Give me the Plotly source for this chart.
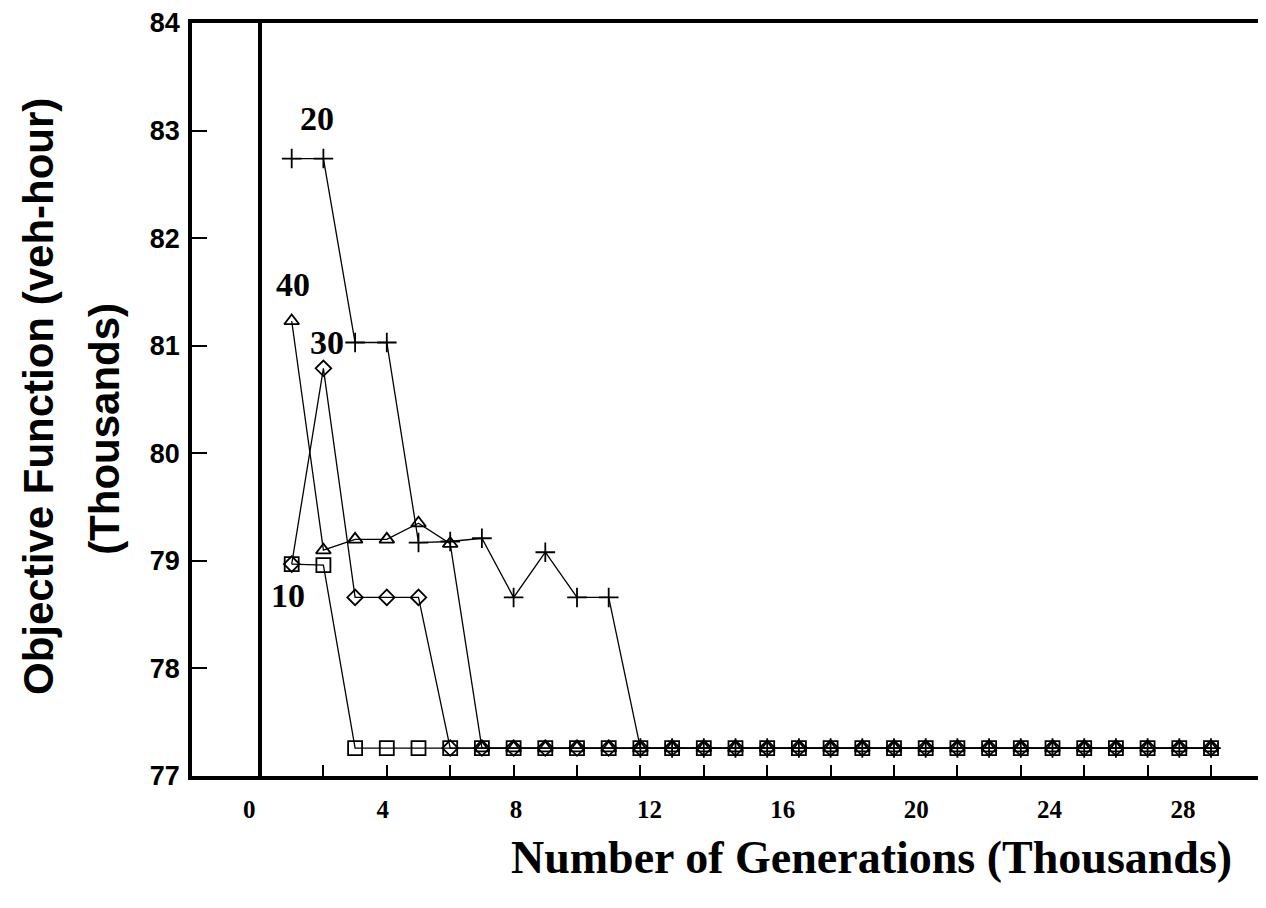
import plotly.graph_objects as go

# ---- data (generations in thousands, objective in thousands veh-hour) ----
generations = list(range(1, 31))
series_10 = [78.97, 78.96] + [77.26] * 28
series_20 = [82.74, 82.74, 81.03, 81.03, 79.17, 79.18, 79.21, 78.66, 79.08, 78.66, 78.66] + [77.26] * 19
series_30 = [78.97, 80.79, 78.66, 78.66, 78.66] + [77.26] * 25
series_40 = [81.23, 79.10, 79.20, 79.20, 79.35, 79.16] + [77.26] * 24

x_tick_labels = [0, 4, 8, 12, 16, 20, 24, 28]
x_tick_marks = list(range(0, 31, 2))
y_tick_values = [77, 78, 79, 80, 81, 82, 83, 84]

series_names = ["10", "20", "30", "40"]
series_values = [series_10, series_20, series_30, series_40]
series_symbols = ["square-open", "cross-thin-open", "diamond-open", "triangle-up-open"]
series_sizes = [14, 14, 12, 13]
# label anchor (x, y) in data units for the in-plot series labels
label_pos = {"10": (0.88, 78.68), "20": (1.8, 83.11), "40": (1.04, 81.57), "30": (2.11, 81.03)}

fig = go.Figure()
for name, vals, sym, sz in zip(series_names, series_values, series_symbols, series_sizes):
    fig.add_trace(go.Scatter(
        x=generations, y=vals, mode="lines+markers", name=name,
        line=dict(color="black", width=1.3),
        marker=dict(symbol=sym, size=sz, color="black", line=dict(color="black", width=1.8)),
        showlegend=False,
    ))

# helper trace so the label axis is drawn
fig.add_trace(go.Scatter(x=[], y=[], xaxis="x2", showlegend=False))

serif_bold = dict(family="Liberation Serif, Times New Roman, serif", color="black", weight="bold")
sans_bold = dict(family="Liberation Sans, Arial, sans-serif", color="black", weight="bold")

fig.update_layout(
    width=1258, height=900,
    margin=dict(l=184, r=0, t=13, b=132),
    paper_bgcolor="white", plot_bgcolor="white",
    xaxis=dict(
        range=[-2.145, 31.735], tickmode="array", tickvals=x_tick_marks,
        ticks="inside", ticklen=11,
        tickwidth=1.5, tickcolor="black", showticklabels=False,
        showgrid=False, showline=True, linecolor="black", linewidth=3.5, mirror=True,
        zeroline=True, zerolinecolor="black", zerolinewidth=3.5,
    ),
    xaxis2=dict(
        overlaying="x", anchor="y", side="bottom",
        range=[-1.719, 30.49], tickmode="array", tickvals=x_tick_labels,
        ticktext=[str(v) for v in x_tick_labels], ticks="",
        showgrid=False, showline=False, zeroline=False,
        tickfont=dict(size=25, **serif_bold), ticklabelstandoff=16,
        ticklabeloverflow="allow",
    ),
    yaxis=dict(
        range=[77, 84], tickmode="array", tickvals=y_tick_values,
        ticks="inside", ticklen=15, tickwidth=1.5, tickcolor="black",
        showgrid=False, zeroline=False, showline=True, linecolor="black", linewidth=3.5,
        tickfont=dict(size=27, **sans_bold), ticklabelstandoff=3,
        ticklabeloverflow="allow",
    ),
)

# series labels
for name, (lx, ly) in label_pos.items():
    fig.add_annotation(x=lx, y=ly, xref="x", yref="y", text=name, showarrow=False,
                       font=dict(size=34, **serif_bold), xanchor="center", yanchor="middle")

# axis titles
fig.add_annotation(x=-0.1434, y=0.5046, xref="paper", yref="paper",
                   text="Objective Function (veh-hour)", textangle=-90, showarrow=False,
                   font=dict(size=42, **sans_bold), xanchor="center", yanchor="middle")
fig.add_annotation(x=-0.081, y=0.461, xref="paper", yref="paper",
                   text="(Thousands)", textangle=-90, showarrow=False,
                   font=dict(size=42, **sans_bold), xanchor="center", yanchor="middle")
fig.add_annotation(x=0.633, y=-0.1086, xref="paper", yref="paper",
                   text="Number of Generations (Thousands)", showarrow=False,
                   font=dict(size=46, **serif_bold), xanchor="center", yanchor="middle")

fig.write_html("out.html")
